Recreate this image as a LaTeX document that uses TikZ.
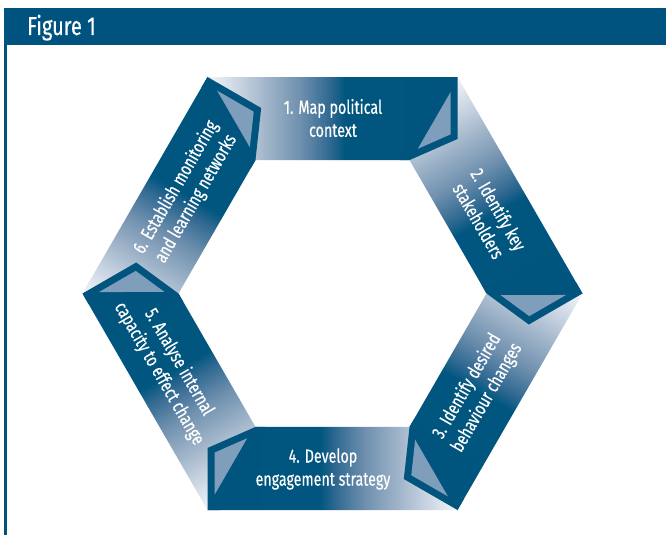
\documentclass[tikz,border=0pt]{standalone}
\usepackage{fontspec}
\newfontfamily\bandfont[FakeStretch=0.75,FakeBold=0.4]{Fira Sans}
\newfontfamily\headfont[FakeStretch=0.77,FakeBold=0.3]{Fira Sans}
\definecolor{headblue}{HTML}{00537F}
\definecolor{banddark}{HTML}{00547E}
\definecolor{tri}{HTML}{7E9EBB}
\definecolor{g0}{HTML}{F2F5F9}
\definecolor{g1}{HTML}{C7D3E1}
\definecolor{g2}{HTML}{A6B9CD}
\definecolor{g3}{HTML}{6F90AE}
\definecolor{g4}{HTML}{2F6891}
\definecolor{g5}{HTML}{00567F}
\pgfdeclarehorizontalshading{bandshade}{100bp}{color(0bp)=(g0); color(25bp)=(g0); color(31.5bp)=(g1); color(36bp)=(g2); color(43.5bp)=(g3); color(49.5bp)=(g4); color(52.5bp)=(g5); color(100bp)=(banddark)}
\tikzset{
  bandtext/.style={text=white, font=\bandfont\fontsize{19}{23}\selectfont, align=center, inner sep=0pt},
  headtext/.style={text=white, font=\headfont\fontsize{26}{30}\selectfont, inner sep=0pt},
  bandbody/.style={shading=bandshade},
  bandend/.style={fill=banddark},
  bandtri/.style={fill=tri}
}
\begin{document}
\begin{tikzpicture}[x=1pt,y=-1pt]
\useasboundingbox (0,0) rectangle (666,535);
\fill[white] (0,0) rectangle (666,535);
\fill[headblue] (4,8) rectangle (666,45.5);
\fill[headblue] (4.3,45) rectangle (6.8,535);
\node[headtext, anchor=base west] (fig) at (27,35) {Figure 1};
\foreach \k in {0,...,5} {
  \begin{scope}[transform canvas={rotate around={-60*\k:(332.5,293.5)}}]
    \shade[bandbody] (207.5,77) -- (457.5,77) -- (409.5,160.1) -- (255.5,160.1) -- cycle;
  \end{scope}
}
\foreach \k in {0,...,5} {
  \begin{scope}[transform canvas={rotate around={-60*\k:(332.5,293.5)}}]
    \fill[bandend] (445,77) -- (457.5,77) -- (457.5,139) -- (409.5,160.1) -- (400,160.1) -- cycle;
    \fill[bandtri] (450.5,92.1) -- (450.5,134.4) -- (417.8,148.8) -- cycle;
  \end{scope}
}
\node[bandtext] (t1) at (333,118) {1. Map political\\context};
\node[bandtext, rotate=-60] (t2) at (489,215) {2. Identify key\\stakeholders};
\node[bandtext, rotate=60] (t3) at (477,392) {3. Identify desired\\behaviour changes};
\node[bandtext] (t4) at (323,469) {4. Develop\\engagement strategy};
\node[bandtext, rotate=-60] (t5) at (169,368) {5. Analyse internal\\capacity to effect change};
\node[bandtext, rotate=60] (t6) at (186,193) {6. Establish monitoring\\and learning networks};
\end{tikzpicture}
\end{document}
